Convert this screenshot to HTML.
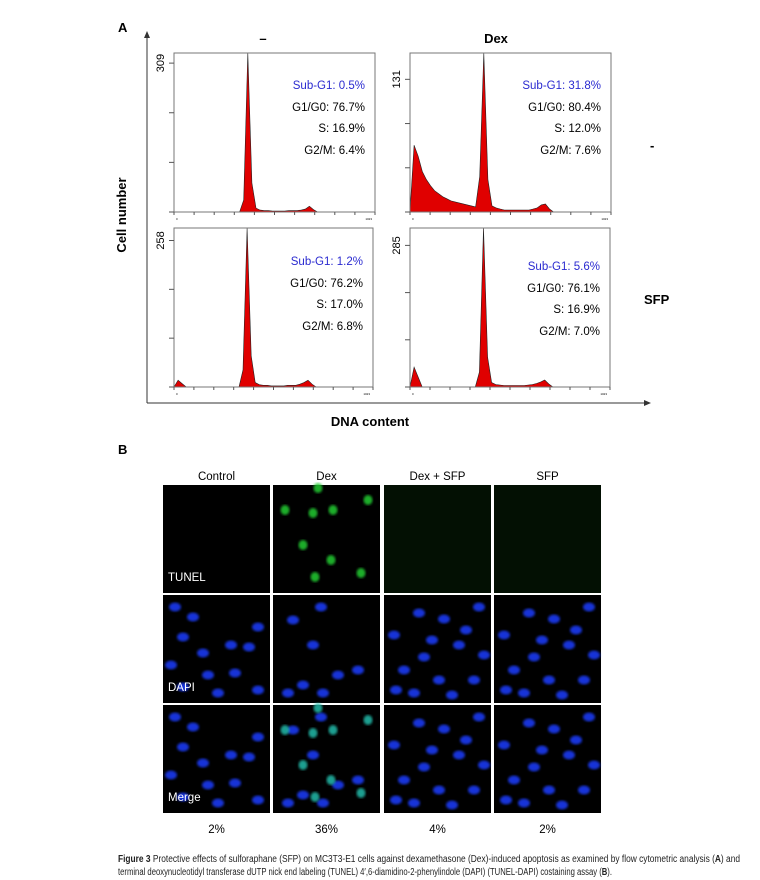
<!DOCTYPE html>
<html><head><meta charset="utf-8"><style>
body{margin:0;background:#fff;font-family:"Liberation Sans",sans-serif;}
#root{position:relative;width:760px;height:880px;overflow:hidden;}
.t{position:absolute;white-space:nowrap;}
.cap{position:absolute;left:118px;white-space:nowrap;font-size:9.9px;color:#222;transform-origin:0 0;}
</style></head><body>
<div id="root">
<svg id="hist" width="760" height="440" style="position:absolute;left:0;top:0"></svg>
<svg id="micro" width="760" height="440" style="position:absolute;left:0;top:440px"></svg>
<div class="cap" id="cap1" data-fit="622" style="top:854px;"><b>Figure 3</b> Protective effects of sulforaphane (SFP) on MC3T3-E1 cells against dexamethasone (Dex)-induced apoptosis as examined by flow cytometric analysis (<b>A</b>) and</div>
<div class="cap" id="cap2" data-fit="494" style="top:867px;">terminal deoxynucleotidyl transferase dUTP nick end labeling (TUNEL) 4′,6-diamidino-2-phenylindole (DAPI) (TUNEL-DAPI) costaining assay (<b>B</b>).</div>
</div>
<script>
document.querySelectorAll('.cap').forEach(el=>{const w=el.getBoundingClientRect().width;el.style.transform='scaleX('+(parseFloat(el.dataset.fit)/w)+')';});
const NS='http://www.w3.org/2000/svg';
function mk(p,tag,at,txt){const e=document.createElementNS(NS,tag);for(const k in at)e.setAttribute(k,at[k]);if(txt!=null)e.textContent=txt;p.appendChild(e);return e;}
// ---- data ----
const panelYMax=[330,157,280,320];
const panelTick=[309,131,258,285];
const subG1=["Sub-G1: 0.5%","Sub-G1: 31.8%","Sub-G1: 1.2%","Sub-G1: 5.6%"];
const g1g0=["G1/G0: 76.7%","G1/G0: 80.4%","G1/G0: 76.2%","G1/G0: 76.1%"];
const sPhase=["S: 16.9%","S: 12.0%","S: 17.0%","S: 16.9%"];
const g2m=["G2/M: 6.4%","G2/M: 7.6%","G2/M: 6.8%","G2/M: 7.0%"];
const hist0=[0,0,0,0,0,0,0,0,0,0,0,0,0,0,0,0,0,25,330,60,8,4,3,3,2,2,2,2,3,3,3,4,6,12,5,0,0,0,0,0,0,0,0,0,0,0,0,0,0,0];
const hist1=[0,66,55,40,32,26,21,18,15,13,11,10,9,8,7,6,5,35,157,32,6,4,3,2,2,2,2,2,2,2,3,4,7,8,3,0,0,0,0,0,0,0,0,0,0,0,0,0,0,0];
const hist2=[0,12,6,0,0,0,0,0,0,0,0,0,0,0,0,0,0,30,280,55,8,4,3,3,2,2,2,2,3,3,3,5,8,12,5,0,0,0,0,0,0,0,0,0,0,0,0,0,0,0];
const hist3=[0,40,20,0,0,0,0,0,0,0,0,0,0,0,0,0,0,30,320,60,9,5,4,3,3,3,3,3,3,4,5,7,10,14,6,0,0,0,0,0,0,0,0,0,0,0,0,0,0,0];
const hists=[hist0,hist1,hist2,hist3];
const boxes=[[174,53,201,159],[410,53,201,159],[174,228,199,159],[410,228,200,159]];
const pctLabels=["2%","36%","4%","2%"];
const colTitles=["Control","Dex","Dex + SFP","SFP"];
// ---- panel A ----
const H=document.getElementById('hist');
mk(H,'text',{x:118,y:32,'font-size':13,'font-weight':'bold'},'A');
mk(H,'line',{x1:147,y1:36,x2:147,y2:403,stroke:'#333','stroke-width':1});
mk(H,'line',{x1:147,y1:403,x2:648,y2:403,stroke:'#333','stroke-width':1});
mk(H,'path',{d:'M144,38 L147,31 L150,38Z',fill:'#333'});
mk(H,'path',{d:'M644,400 L651,403 L644,406Z',fill:'#333'});
const cn=mk(H,'text',{x:0,y:0,'font-size':13,'font-weight':'bold',transform:'translate(126,215) rotate(-90)','text-anchor':'middle'},'Cell number');

const dc=mk(H,'text',{x:370,y:426,'font-size':13,'font-weight':'bold','text-anchor':'middle'},'DNA content');

mk(H,'text',{x:263,y:43,'font-size':13,'font-weight':'bold','text-anchor':'middle'},'–');
mk(H,'text',{x:496,y:43,'font-size':13,'font-weight':'bold','text-anchor':'middle'},'Dex');
mk(H,'text',{x:650,y:150,'font-size':13,'font-weight':'bold'},'-');
mk(H,'text',{x:644,y:304,'font-size':13,'font-weight':'bold'},'SFP');
boxes.forEach((b,i)=>{
  const [bx,by,bw,bh]=b, g=mk(H,'g',{});
  
  
  const data=hists[i], n=data.length, ym=panelYMax[i];
  const sx=k=>bx+k/(n-1)*bw, sy=v=>by+bh-v/ym*bh;
  let d='M'+bx+','+(by+bh);
  data.forEach((v,k)=>{d+=' L'+sx(k).toFixed(1)+','+sy(v).toFixed(1);});
  d+=' L'+(bx+bw)+','+(by+bh)+'Z';
  const p=mk(g,'path',{d:d,fill:'#e00000',stroke:'#222','stroke-width':0.6});
  
  mk(g,'rect',{x:bx,y:by,width:bw,height:bh,fill:'none',stroke:'#777','stroke-width':1});
  const ty=sy(panelTick[i]), span=by+bh-ty;
  [0,1,2,3].forEach(q=>{const yy=by+bh-span*q/3; mk(g,'line',{x1:bx-5,y1:yy,x2:bx,y2:yy,stroke:'#555'});});
  mk(g,'text',{x:0,y:0,'font-size':11,'text-anchor':'middle',transform:`translate(${bx-10},${ty}) rotate(-90)`},String(panelTick[i]));
  for(let k=0;k<=10;k++){const xx=bx+k*bw/10;mk(g,'line',{x1:xx,y1:by+bh,x2:xx,y2:by+bh+3,stroke:'#555'});}
  mk(g,'text',{x:bx+2,y:by+bh+8,'font-size':3},'0');
  mk(g,'text',{x:bx+bw-3,y:by+bh+8,'font-size':3,'text-anchor':'end'},'1023');
  const rx=bx+bw-10;
  const base=by+(i>=2?(i==3?42:37):36);
  mk(g,'text',{x:rx,y:base,'font-size':11.5,'text-anchor':'end',fill:'#2a2ad0'},subG1[i]);
  mk(g,'text',{x:rx,y:base+22,'font-size':11.5,'text-anchor':'end'},g1g0[i]);
  mk(g,'text',{x:rx,y:base+43,'font-size':11.5,'text-anchor':'end'},sPhase[i]);
  mk(g,'text',{x:rx,y:base+65,'font-size':11.5,'text-anchor':'end'},g2m[i]);
});
// ---- panel B ----
const M=document.getElementById('micro');
mk(M,'defs',{}).innerHTML='<filter id="bl"><feGaussianBlur stdDeviation="1.2"/></filter>';
mk(M,'text',{x:118,y:14,'font-size':13,'font-weight':'bold'},'B');
const cols=[163,273,384,494], rows=[45,155,265], cw=107, rh=108;
colTitles.forEach((t,c)=>{mk(M,'text',{x:cols[c]+cw/2,y:40,'font-size':11.5,'text-anchor':'middle'},t);
  mk(M,'text',{x:cols[c]+cw/2,y:393,'font-size':11.5,'text-anchor':'middle'},pctLabels[c]);});
const nucA=[[12,12],[30,22],[20,42],[40,58],[68,50],[95,32],[86,52],[72,78],[45,80],[95,95],[20,92],[55,98],[8,70]];
const nucB=[[35,18],[10,40],[60,24],[82,35],[40,62],[20,75],[55,85],[90,85],[75,50],[30,98],[100,60],[12,95],[68,100],[48,45],[95,12]];
const dexN=[[20,25],[48,12],[40,50],[65,80],[30,90],[85,75],[15,98],[50,98]];
const dexG=[[12,25],[40,28],[60,25],[30,60],[58,75],[95,15],[42,92],[88,88],[45,3]];
rows.forEach((ry,r)=>cols.forEach((cx,c)=>{
  const g=mk(M,'g',{});
  mk(g,'rect',{x:cx,y:ry,width:cw,height:rh,fill:(r==0&&c>=2)?'#031003':'#000'});
  const blue=r>0;
  if(blue){const arr=c==1?dexN:(c==0?nucA:nucB);
    arr.forEach(p=>mk(g,'ellipse',{cx:cx+p[0],cy:ry+p[1],rx:6,ry:4.5,fill:'#1a3cff',filter:'url(#bl)',opacity:0.85}));}
  if(c==1&&r!=1){dexG.forEach(p=>mk(g,'ellipse',{cx:cx+p[0],cy:ry+p[1],rx:4.5,ry:5,fill:r==0?'#22cc33':'#22bbaa',filter:'url(#bl)',opacity:0.85}));}
  if(c==0){const lab=['TUNEL','DAPI','Merge'][r];mk(g,'text',{x:cx+5,y:ry+rh-12,'font-size':11.5,fill:'#fff'},lab);}
}));
</script>
</body></html>
